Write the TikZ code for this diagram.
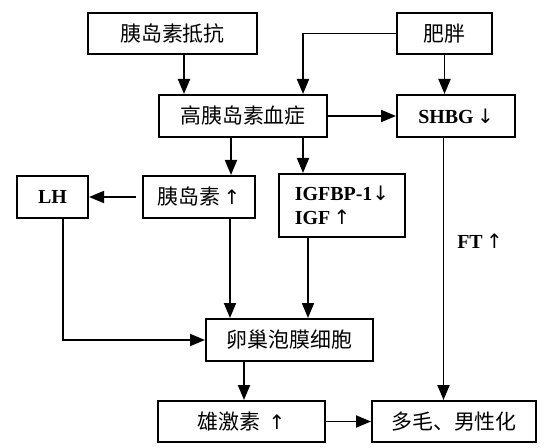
\documentclass[tikz,border=0pt]{standalone}
\usepackage{fontspec}
\setmainfont{Liberation Serif}
\newfontfamily\cjk{Noto Sans CJK SC}
\newfontfamily\symfont{DejaVu Sans}
\newcommand{\uparr}{\,{\symfont\mdseries ↑}}
\newcommand{\dnarr}{{\symfont\mdseries ↓}}
\usetikzlibrary{arrows.meta}
\begin{document}
\begin{tikzpicture}[x=1bp,y=-1bp,
  box/.style={draw,line width=2bp,inner sep=0pt,font=\bfseries\fontsize{20}{24}\selectfont},
  arr/.style={line width=1.9bp,-{Triangle[length=15bp,width=12bp]}},
  zh/.style={font=\cjk\fontsize{21}{24}\selectfont}]
\useasboundingbox (0,0) rectangle (552,448);
\node[box,zh,minimum width=169bp,minimum height=41bp] (ir) at (172.5,33.5) {胰岛素抵抗};
\node[box,zh,minimum width=95bp,minimum height=41bp] (fp) at (444.5,33.5) {肥胖};
\node[box,zh,minimum width=168bp,minimum height=42bp] (gao) at (243,116) {高胰岛素血症};
\node[box,minimum width=118bp,minimum height=42bp] (shbg) at (456,116) {SHBG\,\dnarr};
\node[box,minimum width=71bp,minimum height=42bp] (lh) at (52.5,197) {LH};
\node[box,minimum width=112bp,minimum height=42bp] (ins) at (199,197) {{\cjk\mdseries\fontsize{21}{24}\selectfont 胰岛素}\uparr};
\node[box,minimum width=126bp,minimum height=63bp,align=left] (igf) at (342,205.5) {IGFBP-1\dnarr\\IGF\uparr};
\node[box,zh,minimum width=167bp,minimum height=42bp] (ov) at (289.5,340) {卵巢泡膜细胞};
\node[box,minimum width=167bp,minimum height=41bp] (an) at (241.5,421.5) {{\cjk\mdseries\fontsize{21}{24}\selectfont 雄激素}\ \uparr};
\node[box,zh,minimum width=164bp,minimum height=41bp] (dm) at (454,421.5) {多毛、男性化};
\node[font=\bfseries\fontsize{20}{24}\selectfont] (ft) at (480,241) {FT\uparr};
\draw[arr] ([xshift=11.5bp]ir.south) -- ([xshift=11.5bp]ir.south |- gao.north);
\draw[arr] (fp.west) -| ([xshift=60bp]gao.north);
\draw[arr] (fp.south) -- (fp.south |- shbg.north);
\draw[arr] (gao.east) -- (shbg.west);
\draw[arr] ([xshift=-12bp]gao.south) -- ([xshift=-12bp]gao.south |- ins.north);
\draw[arr] ([xshift=60bp]gao.south) -- ([xshift=60bp]gao.south |- igf.north);
\draw[arr,shorten <=6bp] (ins.west) -- (lh.east);
\draw[arr] ([xshift=10.5bp]lh.south) |- (ov.west);
\draw[arr] ([xshift=31bp]ins.south) -- ([xshift=31bp]ins.south |- ov.north);
\draw[arr] ([xshift=-34bp]igf.south) -- ([xshift=-34bp]igf.south |- ov.north);
\draw[arr] ([xshift=-12.5bp]shbg.south) -- ([xshift=-12.5bp]shbg.south |- dm.north);
\draw[arr] ([xshift=-45.5bp]ov.south) -- ([xshift=-45.5bp]ov.south |- an.north);
\draw[arr] (an.east) -- (dm.west);
\end{tikzpicture}
\end{document}
